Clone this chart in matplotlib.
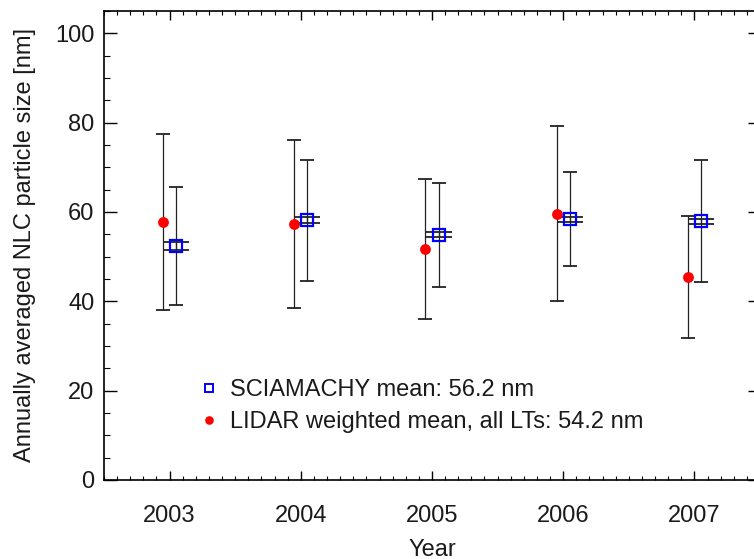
import numpy as np
import matplotlib
matplotlib.use("Agg")
import matplotlib.pyplot as plt
from matplotlib.ticker import MultipleLocator

# annual values
years = [2003, 2004, 2005, 2006, 2007]
lidar_mean = [57.7, 57.4, 51.7, 59.6, 45.4]
lidar_lo = [38.1, 38.6, 36.0, 40.1, 31.9]
lidar_hi = [77.4, 76.1, 67.5, 79.3, 59.0]
scia_mean = [52.3, 58.1, 54.9, 58.4, 58.0]
scia_lo = [39.1, 44.6, 43.3, 47.8, 44.3]
scia_hi = [65.5, 71.7, 66.5, 69.0, 71.6]
scia_se_lo = [51.4, 57.5, 54.3, 57.8, 57.4]
scia_se_hi = [53.2, 58.9, 55.5, 58.9, 58.5]

scia_label = "SCIAMACHY mean: 56.2 nm"
lidar_label = "LIDAR weighted mean, all LTs: 54.2 nm"

plt.rcParams['font.family'] = ['Liberation Sans', 'DejaVu Sans']
plt.rcParams['font.size'] = 17
plt.rcParams['text.color'] = '#1a1a1a'
plt.rcParams['axes.labelcolor'] = '#1a1a1a'
plt.rcParams['xtick.labelcolor'] = '#1a1a1a'
plt.rcParams['ytick.labelcolor'] = '#1a1a1a'

fig = plt.figure(figsize=(7.54, 5.59), dpi=100)
ax = fig.add_axes([104 / 754, 79 / 559, 656 / 754, 469 / 559])

x = np.array(years, dtype=float)
xl = x - 0.05
xs = x + 0.05
lm = np.array(lidar_mean)
sm = np.array(scia_mean)

ax.errorbar(xl, lm, yerr=[lm - np.array(lidar_lo), np.array(lidar_hi) - lm],
            fmt='none', ecolor='#222222', elinewidth=0.9, capsize=4.7, capthick=1.3, zorder=2)
ax.errorbar(xs, sm, yerr=[sm - np.array(scia_lo), np.array(scia_hi) - sm],
            fmt='none', ecolor='#222222', elinewidth=0.9, capsize=4.7, capthick=1.3, zorder=2)
ax.errorbar(xs, sm, yerr=[sm - np.array(scia_se_lo), np.array(scia_se_hi) - sm],
            fmt='none', ecolor='#222222', elinewidth=0.9, capsize=9.4, capthick=1.3, zorder=2)

ax.plot(xl, lm, 'o', color='red', markersize=7.8, markeredgewidth=0, zorder=3)
ax.plot(xs, sm, 's', color='blue', markerfacecolor='none', markersize=8.6,
        markeredgewidth=1.6, zorder=4)

# legend entries
h1, = ax.plot([], [], 's', color='blue', markerfacecolor='none', markersize=6,
              markeredgewidth=1.4, label=scia_label)
h2, = ax.plot([], [], 'o', color='red', markersize=6.2, markeredgewidth=0, label=lidar_label)
ax.legend(handles=[h1, h2], loc='center left', bbox_to_anchor=(0.143, 0.158),
          frameon=False, borderpad=0, borderaxespad=0, handlelength=0.95,
          handletextpad=0.42, labelspacing=0.42, fontsize=17)

ax.set_xlim(2002.5, 2007.5)
ax.set_ylim(0, 105)
ax.set_xticks(years)
ax.set_xticklabels([str(y) for y in years])
ax.xaxis.set_minor_locator(MultipleLocator(0.1))
ax.yaxis.set_major_locator(MultipleLocator(20))
ax.yaxis.set_minor_locator(MultipleLocator(5))

ax.tick_params(axis='x', which='major', direction='in', length=6.5, width=1.0,
               top=True, pad=18)
ax.tick_params(axis='x', which='minor', direction='in', length=2.9, width=0.8, top=True)
ax.tick_params(axis='y', which='major', direction='in', length=9, width=1.0,
               right=True, pad=7)
ax.tick_params(axis='y', which='minor', direction='in', length=4, width=0.8, right=True)
for s in ax.spines.values():
    s.set_linewidth(1.2)

ax.set_xlabel("Year")
ax.set_ylabel("Annually averaged NLC particle size [nm]")
ax.xaxis.set_label_coords(0.5, -0.125)
ax.yaxis.set_label_coords(-0.104, 0.5)

fig.savefig("out.png", dpi=100)
